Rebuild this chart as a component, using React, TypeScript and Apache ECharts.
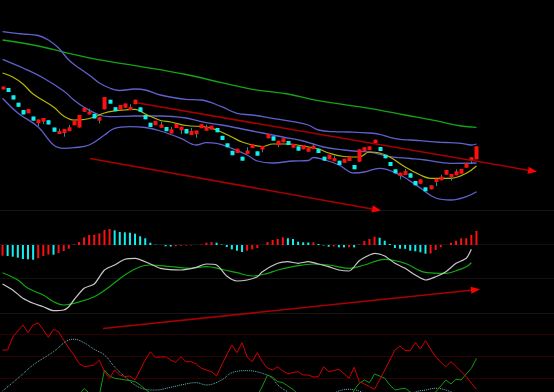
import React, { useEffect, useRef } from "react";
import * as echarts from "echarts";

const dayLabels: string[] = Array.from({ length: 94 }, (_, i) => `T${i + 1}`);

// [open, close, low, high]
const candles: number[][] = [
  [17.05, 17.35, 17.05, 17.35], [17.2, 16.8, 16.8, 17.2], [16.47, 16.05, 16.05, 16.47], [15.73, 15.32, 15.32, 15.73],
  [15.0, 14.55, 14.55, 15.0], [14.67, 15.1, 14.67, 15.1], [14.35, 13.93, 13.93, 14.35], [13.68, 14.05, 13.4, 14.05],
  [13.83, 14.2, 13.6, 14.2], [13.98, 13.55, 13.55, 13.98], [13.25, 12.82, 12.82, 13.25], [12.6, 12.9, 12.6, 13.13],
  [12.7, 13.1, 12.33, 13.1], [12.88, 13.27, 12.88, 13.5], [13.48, 13.92, 13.48, 13.92], [13.25, 14.5, 13.25, 14.5],
  [14.82, 15.2, 14.82, 15.2], [14.55, 14.85, 14.55, 15.13], [14.62, 14.15, 14.15, 14.62], [13.93, 14.28, 13.65, 14.28],
  [15.07, 16.3, 15.07, 16.3], [16.03, 15.63, 15.63, 16.03], [15.28, 14.88, 14.88, 15.28], [15.07, 15.5, 15.07, 15.5],
  [15.23, 15.65, 15.23, 15.65], [15.0, 15.3, 15.0, 15.57], [15.58, 16.03, 15.58, 16.03], [15.27, 14.82, 14.82, 15.27],
  [14.5, 14.07, 14.07, 14.5], [13.73, 13.3, 13.3, 13.73], [13.48, 13.9, 13.48, 13.9], [13.22, 13.55, 13.22, 13.83],
  [13.3, 12.88, 12.88, 13.3], [12.65, 13.08, 12.65, 13.3], [13.2, 13.62, 13.2, 13.62], [12.97, 13.33, 12.6, 13.33],
  [13.1, 12.65, 12.65, 13.1], [12.5, 12.9, 12.5, 13.2], [12.58, 12.95, 12.23, 12.95], [13.18, 13.58, 13.18, 13.58],
  [12.93, 13.32, 12.93, 13.53], [13.05, 13.43, 13.05, 13.43], [13.2, 12.77, 12.77, 13.2], [12.42, 12.0, 12.0, 12.42],
  [11.67, 11.27, 11.27, 11.67], [10.92, 10.48, 10.48, 10.92], [10.7, 11.13, 10.7, 11.13], [10.33, 9.93, 9.93, 10.33],
  [10.6, 10.95, 10.6, 11.27], [11.2, 11.57, 11.2, 11.57], [10.87, 10.43, 10.43, 10.87], [11.05, 11.4, 10.77, 11.4],
  [12.17, 12.6, 12.17, 12.6], [12.37, 11.93, 11.93, 12.37], [11.47, 11.93, 11.27, 11.93], [11.77, 12.17, 11.77, 12.17],
  [11.9, 11.5, 11.5, 11.9], [11.23, 11.6, 11.23, 11.6], [11.37, 10.93, 10.93, 11.37], [11.07, 11.5, 11.07, 11.5],
  [10.83, 11.23, 10.83, 11.23], [11.1, 11.43, 11.1, 11.67], [11.13, 10.7, 10.7, 11.13], [10.33, 9.93, 9.93, 10.33],
  [10.07, 10.53, 10.07, 10.53], [9.87, 10.2, 9.87, 10.43], [9.93, 9.5, 9.5, 9.93], [9.73, 10.13, 9.73, 10.13],
  [9.9, 10.33, 9.9, 10.33], [9.5, 9.07, 9.07, 9.5], [9.83, 11.07, 9.83, 11.07], [10.87, 11.27, 10.87, 11.27],
  [11.0, 11.37, 11.0, 11.37], [11.67, 12.03, 11.67, 12.03], [11.3, 10.9, 10.9, 11.3], [10.53, 10.17, 10.17, 10.53],
  [9.8, 9.4, 9.4, 9.8], [9.07, 8.67, 8.67, 9.07], [8.4, 8.73, 8.07, 8.73], [8.5, 8.9, 8.5, 9.1],
  [8.67, 8.23, 8.23, 8.67], [7.9, 7.47, 7.47, 7.9], [7.63, 8.07, 7.63, 8.07], [7.27, 6.87, 6.87, 7.27],
  [7.07, 7.47, 7.07, 7.47], [7.8, 8.13, 7.4, 8.13], [7.97, 8.33, 7.97, 8.53], [8.53, 9.0, 8.53, 9.0],
  [8.27, 8.6, 7.93, 8.6], [8.47, 8.87, 8.47, 9.07], [8.63, 9.1, 8.63, 9.1], [9.23, 9.67, 9.23, 9.67],
  [9.9, 10.27, 9.6, 10.27], [10.07, 11.37, 10.07, 11.37],
];

// [index, value]
const bollUpper: number[][] = [
  [0, 22.83], [4, 22.6], [7, 22.45], [9, 22.0], [11, 21.2], [13, 20.0], [15, 19.2], [17, 18.5], [19, 17.7],
  [21, 17.2], [23, 16.95], [26, 17.1], [28, 17.0], [31, 16.5], [34, 16.2], [36, 16.07], [39, 16.0], [43, 15.33],
  [46, 14.67], [49, 14.5], [53, 14.17], [57, 13.83], [60, 13.5], [62, 13.0], [65, 12.83], [68, 12.8], [72, 12.7],
  [74, 12.57], [76, 12.27], [78, 12.07], [80, 12.0], [82, 11.93], [84, 11.83], [86, 11.77], [88, 11.73],
  [90, 11.67], [92, 11.5], [93, 11.6],
];
const bollMid: number[][] = [
  [0, 20.07], [4, 19.2], [8, 18.2], [12, 16.9], [14, 16.0], [16, 15.27], [19, 14.5], [21, 14.33], [26, 14.4],
  [31, 14.4], [36, 14.2], [39, 13.83], [43, 13.5], [47, 13.1], [51, 12.7], [55, 12.3], [59, 11.9], [63, 11.3],
  [67, 11.0], [70, 10.85], [72, 10.8], [76, 10.33], [80, 10.15], [83, 10.0], [88, 9.67], [93, 9.7],
];
const bollLower: number[][] = [
  [0, 16.17], [3, 14.7], [7, 13.3], [10, 11.5], [12, 11.17], [14, 11.23], [17, 11.5], [20, 12.5], [22, 13.17],
  [25, 13.33], [28, 13.25], [31, 12.9], [35, 12.17], [38, 11.5], [40, 11.73], [42, 11.67], [45, 11.17], [48, 10.5],
  [50, 9.9], [53, 9.7], [57, 9.9], [60, 9.95], [61, 10.25], [63, 10.05], [66, 9.5], [69, 8.7], [71, 8.8],
  [74, 9.17], [78, 8.5], [82, 7.2], [85, 6.2], [88, 6.0], [91, 6.33], [93, 6.83],
];
const maShort: number[][] = [
  [0, 18.7], [2, 18.3], [4, 17.6], [6, 16.6], [10, 15.3], [12, 14.4], [14, 14.0], [16, 14.05], [18, 14.3],
  [20, 14.7], [22, 14.9], [24, 15.0], [26, 15.07], [28, 14.6], [31, 13.95], [33, 13.8], [36, 13.45], [40, 13.3],
  [42, 13.0], [45, 12.3], [47, 11.8], [49, 11.5], [51, 11.35], [53, 11.6], [56, 11.6], [59, 11.4], [62, 11.1],
  [64, 10.7], [67, 10.35], [70, 10.3], [72, 10.8], [74, 10.7], [76, 10.3], [79, 9.3], [82, 8.5], [84, 8.17],
  [88, 8.17], [91, 8.67], [93, 9.4],
];
const maLong: number[][] = [
  [0, 22.0], [7, 21.4], [13, 20.67], [20, 19.93], [26, 19.43], [36, 18.55], [43, 17.73], [49, 17.07],
  [56, 16.6], [62, 15.93], [72, 15.17], [79, 14.5], [85, 13.93], [90, 13.4], [93, 13.27],
];

const macdHist: number[] = [
  -0.107, -0.11, -0.117, -0.127, -0.14, -0.143, -0.147, -0.133, -0.11, -0.095,
  -0.097, -0.08, -0.06, -0.037, 0.005, 0.03, 0.077, 0.1, 0.103, 0.117,
  0.15, 0.16, 0.147, 0.13, 0.127, 0.123, 0.113, 0.087, 0.067, 0.023,
  0.003, 0.001, -0.013, -0.015, -0.012, -0.008, -0.006, -0.004, 0.0, 0.005,
  0.023, 0.03, 0.023, 0.005, -0.02, -0.043, -0.057, -0.07, -0.057, -0.043,
  -0.03, 0.0, 0.03, 0.05, 0.06, 0.077, 0.067, 0.06, 0.033, 0.027,
  0.025, 0.027, 0.01, -0.005, -0.017, -0.015, -0.023, -0.024, -0.022, -0.024,
  0.005, 0.04, 0.06, 0.083, 0.073, 0.043, 0.01, -0.03, -0.037, -0.038,
  -0.057, -0.063, -0.073, -0.087, -0.085, -0.05, -0.023, 0.0, 0.023, 0.043,
  0.067, 0.068, 0.1, 0.14,
];
const macdDif: number[][] = [
  [0, -0.39], [2, -0.45], [4, -0.533], [6, -0.583], [8, -0.617], [10, -0.657], [12, -0.65], [13, -0.617],
  [14, -0.55], [16, -0.433], [18, -0.39], [20, -0.25], [22, -0.2], [24, -0.143], [26, -0.133], [29, -0.19],
  [31, -0.233], [35, -0.25], [38, -0.223], [40, -0.19], [42, -0.2], [44, -0.31], [46, -0.36], [48, -0.35],
  [50, -0.317], [51, -0.267], [54, -0.183], [56, -0.167], [58, -0.183], [60, -0.167], [62, -0.19], [64, -0.217],
  [66, -0.25], [68, -0.26], [70, -0.157], [72, -0.1], [73, -0.083], [75, -0.11], [77, -0.183], [79, -0.233],
  [81, -0.3], [83, -0.35], [85, -0.317], [87, -0.267], [89, -0.183], [91, -0.133], [92, -0.043],
];
const macdDea: number[][] = [
  [0, -0.277], [3, -0.35], [5, -0.433], [8, -0.5], [10, -0.567], [12, -0.6], [14, -0.583], [18, -0.517],
  [21, -0.417], [24, -0.3], [27, -0.217], [29, -0.2], [33, -0.217], [37, -0.233], [40, -0.217], [43, -0.243],
  [46, -0.277], [49, -0.31], [52, -0.283], [54, -0.25], [57, -0.217], [61, -0.19], [64, -0.2], [68, -0.233],
  [71, -0.2], [75, -0.143], [79, -0.183], [83, -0.273], [87, -0.283], [89, -0.257], [91, -0.217], [92, -0.177],
];

const dmiRed: number[] = [
  58.2, 58.2, 75.9, 84.1, 92.3, 81.8, 92.3, 95.4, 85.5, 75.5,
  86.4, 83.1, 71.8, 60.9, 51.4, 40.0, 35.4, 36.4, 37.7, 44.5,
  28.6, 19.6, 30.9, 24.1, 22.0, 22.7, 17.3, 30.9, 44.5, 55.9,
  48.2, 48.6, 49.0, 44.5, 41.4, 49.0, 42.2, 42.2, 39.1, 33.2,
  30.9, 28.6, 22.7, 37.7, 51.4, 65.0, 54.5, 68.1, 48.6, 42.2,
  54.5, 41.8, 33.6, 30.9, 35.4, 29.5, 25.5, 27.5, 28.6, 24.1,
  24.1, 21.4, 21.8, 35.4, 28.6, 30.2, 31.9, 26.1, 19.6, 34.6,
  15.0, 11.8, 8.4, 4.6, 17.3, 30.9, 44.5, 58.2, 63.6, 57.5,
  57.2, 68.7, 59.5, 70.9, 59.5, 48.6, 41.8, 35.4, 42.2, 35.7,
  28.9, 21.8, 13.2, 4.6,
];
const dmiTeal: number[][] = [
  [0, 2.3], [3, 19.6], [6, 37.7], [10, 55.9], [13, 71.8], [14, 72.8], [16, 68.1], [18, 59.1], [20, 51.4],
  [22, 35.0], [24, 21.8], [26, 10.5], [28, 4.6], [30, 3.6], [33, 7.3], [35, 10.5], [38, 13.6], [40, 10.5],
  [43, 17.3], [45, 27.2], [48, 30.0], [51, 26.4], [53, 19.6], [54, 10.5], [56, 0.9], [58, -7.3], [61, -10],
  [64, -4.5], [66, 2.3], [68, 4.6], [70, 2.3], [72, -4.5], [75, -10], [79, -7.3], [81, 0.9], [83, 3.6],
  [85, 6.0], [87, 3.6], [89, -1.8], [91, -7.3], [93, -10],
];
const dmiGreen: number[] = [
  -12, -12, -12, -12, -12, -12, -12, -12, -12, -12, -12, -12, -12, -12, -12,
  -3.2, 5.7, -0.5, -7.3, -3.2, 30.9, 22.7, 19.6, 18.6, 17.3, 16.6, 15.0, 10.5, 4.6, -0.5,
  -12, -12, -12, -12, -12, -12, -12, -12, -12, -12, -12, -12, -12, -12, -12, -12, -12, -12, -12, -12,
  -4.5, 9.1, 24.1, 21.0, 15.2, 13.6, 9.1, 4.3, -1.8,
  -12, -12, -12, -12, -12, -12, -12, -12, -12, -12,
  3.6, 12.8, 17.3, 13.6, 25.5, 22.7, 19.6, 10.5, 3.6, 5.0, 6.0, 0.9, -4.5, -4.5, -4.5, -4.5,
  0.9, 9.1, 17.3, 11.8, 18.2, 17.3, 25.5, 33.2, 46.9,
];

const RED = "#ff1010";
const CYAN = "#10f0f0";
const WICK = "#0a9a9a";

function lineSeries(data: any, color: string, xi: number, smooth: number | boolean, width = 1, type: any = "solid") {
  return {
    type: "line",
    xAxisIndex: xi,
    yAxisIndex: xi,
    data,
    symbol: "none",
    showSymbol: false,
    smooth,
    silent: true,
    clip: true,
    lineStyle: { color, width, type },
    z: 2,
  };
}

function arrow(x1: number, y1: number, x2: number, y2: number) {
  const dx = x2 - x1;
  const dy = y2 - y1;
  const len = Math.sqrt(dx * dx + dy * dy);
  const ux = dx / len;
  const uy = dy / len;
  const bx = x2 - 9 * ux;
  const by = y2 - 9 * uy;
  const px = -uy * 3.6;
  const py = ux * 3.6;
  return [
    { type: "line", z: 100, shape: { x1, y1, x2: bx, y2: by }, style: { stroke: "#a80000", lineWidth: 1.6 } },
    {
      type: "polygon",
      z: 101,
      shape: { points: [[x2, y2], [bx + px, by + py], [bx - px, by - py]] },
      style: { fill: "#ff0000" },
    },
  ];
}

function hline(y: number, color: string) {
  return { type: "line", z: 0, shape: { x1: 0, y1: y, x2: 554, y2: y }, style: { stroke: color, lineWidth: 1 } };
}

export default function App() {
  const ref = useRef<HTMLDivElement>(null);
  useEffect(() => {
    if (!ref.current) return;
    const chart = echarts.init(ref.current, undefined, { renderer: "svg" });
    const gridBase = { left: -3, width: 482 };
    const option: any = {
      animation: false,
      backgroundColor: "#000000",
      grid: [
        { ...gridBase, top: 0, height: 211 },
        { ...gridBase, top: 211, height: 102 },
        { ...gridBase, top: 313, height: 79 },
      ],
      xAxis: [0, 1, 2].map((i) => ({
        type: "category",
        gridIndex: i,
        data: dayLabels,
        boundaryGap: true,
        show: false,
      })),
      yAxis: [
        { type: "value", gridIndex: 0, min: 4.9, max: 26, show: false, splitLine: { show: false } },
        { type: "value", gridIndex: 1, min: -0.68, max: 0.34, show: false, splitLine: { show: false } },
        { type: "value", gridIndex: 2, min: 0.91, max: 108.64, show: false, splitLine: { show: false } },
      ],
      graphic: [
        hline(210.5, "#151515"),
        hline(244.5, "#131313"),
        hline(278.5, "#131313"),
        hline(313.5, "#151515"),
        hline(334.5, "#2c0000"),
        hline(356.5, "#2c0000"),
        hline(378.5, "#2c0000"),
        ...arrow(138, 103, 537, 171.7),
        ...arrow(90, 158.5, 381, 210.5),
        ...arrow(103, 328.5, 480, 289.3),
      ],
      series: [
        lineSeries(maLong, "#17a317", 0, 0.4, 1.3),
        lineSeries(bollUpper, "#6060cc", 0, 0.4, 1.3),
        lineSeries(bollMid, "#6060cc", 0, 0.4, 1.3),
        lineSeries(bollLower, "#6060cc", 0, 0.4, 1.3),
        lineSeries(maShort, "#b8b800", 0, 0.4, 1.2),
        {
          type: "custom",
          xAxisIndex: 0,
          yAxisIndex: 0,
          silent: true,
          z: 5,
          data: candles.map((c, i) => [i, c[0], c[1], c[2], c[3]]),
          encode: { x: 0, y: [1, 2, 3, 4] },
          renderItem: (params: any, api: any) => {
            const idx = api.value(0);
            const o = api.value(1);
            const c = api.value(2);
            const l = api.value(3);
            const h = api.value(4);
            const pO = api.coord([idx, o]);
            const pC = api.coord([idx, c]);
            const pL = api.coord([idx, l]);
            const pH = api.coord([idx, h]);
            const color = c >= o ? RED : CYAN;
            const top = Math.min(pO[1], pC[1]);
            const bot = Math.max(pO[1], pC[1]);
            const cx = Math.round(pO[0]);
            return {
              type: "group",
              children: [
                {
                  type: "line",
                  shape: { x1: cx + 0.5, y1: pH[1], x2: cx + 0.5, y2: pL[1] },
                  style: { stroke: WICK, lineWidth: 1 },
                },
                {
                  type: "rect",
                  shape: { x: cx - 1.5, y: top, width: 4, height: Math.max(1, bot - top) },
                  style: { fill: color },
                },
              ],
            };
          },
        },
        {
          type: "bar",
          xAxisIndex: 1,
          yAxisIndex: 1,
          barWidth: 2,
          silent: true,
          data: macdHist.map((v, i) => ({
            value: v,
            itemStyle: { color: i === 0 || v >= macdHist[i - 1] ? RED : CYAN },
          })),
        },
        lineSeries(macdDea, "#12a812", 1, 0.4, 1.2),
        lineSeries(macdDif, "#c8c8c8", 1, 0.25, 1.2),
        lineSeries(dmiTeal, "#6ab8c0", 2, 0.4, 1, [1, 1]),
        lineSeries(dmiGreen, "#119a11", 2, false),
        lineSeries(dmiRed, "#d00000", 2, false),
      ],
    };
    chart.setOption(option);
    return () => chart.dispose();
  }, []);
  return (
    <div
      ref={ref}
      style={{ position: "fixed", left: 0, top: 0, width: 554, height: 392, background: "#000" }}
    />
  );
}
